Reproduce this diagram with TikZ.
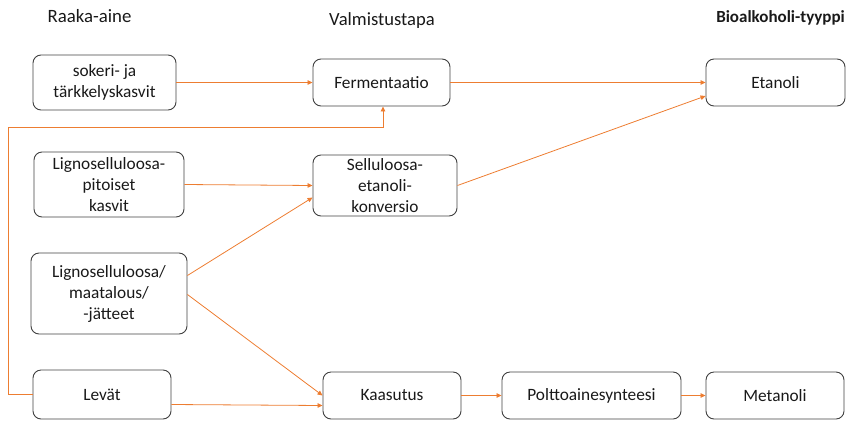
\documentclass[tikz,border=0pt]{standalone}
\usepackage{fontspec}
\setmainfont{Carlito}
\usetikzlibrary{arrows.meta}
\definecolor{flow}{RGB}{237,125,49}
\definecolor{frame}{RGB}{64,64,64}
\definecolor{ink}{RGB}{25,25,25}
\tikzset{
  stage/.style={draw=frame, line width=0.9pt, rounded corners=8pt, align=center,
    inner sep=0pt, text=ink, font=\fontsize{17.3}{21}\selectfont},
  link/.style={draw=flow, line width=0.8pt, -{Triangle[length=5pt,width=4.5pt]}},
  heading/.style={inner sep=0pt, text=ink},
}
\begin{document}
\begin{tikzpicture}[x=1pt,y=-1pt]
\useasboundingbox (0,0) rectangle (846,421);

% column headings
\node[heading, font=\fontsize{18.8}{22}\selectfont] (hraw) at (89.5,16) {Raaka-aine};
\node[heading, font=\fontsize{18.6}{22}\selectfont] (hproc) at (382,21) {Valmistustapa};
\node[heading, anchor=east, font=\fontsize{17}{20}\selectfont\bfseries] (htype) at (845,18) {Bioalkoholi-tyyppi};

% raw materials
\node[stage, minimum width=143pt, minimum height=55pt] (sok) at (104.5,82.5) {sokeri- ja\\tärkkelyskasvit};
\node[stage, minimum width=150pt, minimum height=65pt] (lpk) at (109,184.5) {Lignoselluloosa-\\pitoiset\\kasvit};
\node[stage, minimum width=156pt, minimum height=81pt] (lsm) at (109,293.5) {Lignoselluloosa/\\maatalous/\\-jätteet};
\node[stage, minimum width=138pt, minimum height=49pt] (lev) at (102,394.5) {Levät};

% processes
\node[stage, minimum width=137pt, minimum height=47pt] (fer) at (381.5,82.5) {Fermentaatio};
\node[stage, minimum width=144pt, minimum height=61pt] (sel) at (385,185.5) {Selluloosa-\\etanoli-\\konversio};
\node[stage, minimum width=138pt, minimum height=47pt] (kaa) at (392,395.5) {Kaasutus};
\node[stage, minimum width=179pt, minimum height=47pt] (pol) at (591.5,395.5) {Polttoainesynteesi};

% products
\node[stage, minimum width=139pt, minimum height=47pt] (eta) at (775.5,82.5) {Etanoli};
\node[stage, minimum width=138pt, minimum height=47pt] (met) at (775,395.5) {Metanoli};

% connectors
\draw[link] (sok.east) -- (fer.west);
\draw[link] (fer.east) -- (eta.west);
\draw[link] (sel.east) -- ([yshift=-13.5pt]eta.west);
\draw[link] (lpk.east) -- (sel.west);
\draw[link] ([yshift=18pt]lsm.east) -- ([yshift=-12pt]sel.west);
\draw[link] ([yshift=-1pt]lsm.east) -- (kaa.west);
\draw[link] ([yshift=-10pt]lev.east) -- ([yshift=-10pt]kaa.west);
\coordinate (loop) at (8,127);
\draw[link] (lev.west) -| (loop) -| ([xshift=1.5pt]fer.south);
\draw[link] (kaa.east) -- (pol.west);
\draw[link] (pol.east) -- (met.west);
\end{tikzpicture}
\end{document}
